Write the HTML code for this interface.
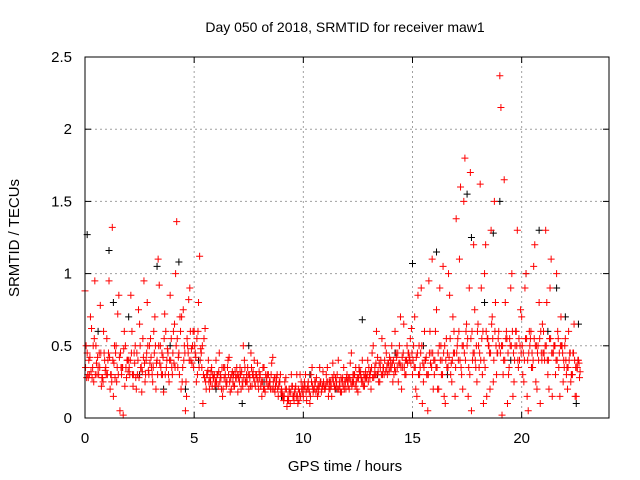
<!DOCTYPE html>
<html><head><meta charset="utf-8"><style>
body{margin:0;background:#fff;}
svg{display:block;font-family:"Liberation Sans",sans-serif;}
</style></head><body>
<svg id="chart" width="640" height="480" viewBox="0 0 640 480">
<rect width="640" height="480" fill="#fff"/>
<text x="345" y="32" font-size="14" text-anchor="middle">Day 050 of 2018, SRMTID for receiver maw1</text>
<text x="345" y="471" font-size="15" text-anchor="middle">GPS time / hours</text>
<text transform="translate(19,238) rotate(-90)" font-size="15" text-anchor="middle">SRMTID / TECUs</text>
<g id="grid"></g>
<g id="axes"></g>
<g id="black-series"></g>
<g id="red-series"></g>
<rect x="85" y="57" width="524" height="361" fill="none" stroke="#000" stroke-width="1"/>
</svg>
<script>
const xTicks=[0,5,10,15,20];
const yTicks=[0,0.5,1,1.5,2,2.5];
const yTickLabels=["0","0.5","1","1.5","2","2.5"];
const sampleStep=0.1;
const redOffsets=[0,0.05,0.025,0.075];
const vRedA=[.88,.45,.3,.62,.25,.5,.35,.78,.28,.4,
.55,.95,.3,.15,.45,.72,.05,.35,.6,.28,
.4,.85,.22,.5,.3,.65,.18,.95,.4,.33,
.55,.25,.7,.4,.92,.3,.18,.6,.45,.85,
.3,.65,1.36,.45,.2,.75,.05,.5,.9,.38,
.6,.25,.8,.48,.1,.62,.3,.2,.35,.28,
.4,.22,.3,.15,.35,.25,.42,.2,.3,.28,
.18,.35,.25,.4,.3,.2,.45,.32,.22,.38,
.28,.15,.35,.25,.3,.2,.42,.18,.3,.25,
.2,.12,.28,.15,.1,.22,.18,.3,.12,.25,
.15,.3,.22,.1,.35,.2,.28,.18,.25,.32,
.2,.35,.25,.15,.3,.22,.4,.18,.28,.25,
.3,.2,.45,.25,.35,.18,.3,.4,.22,.28,
.35,.2,.5,.3,.42,.25,.55,.3,.45,.38,
.4,.25,.6,.35,.5,.2,.65,.3,.45,.55,
.3,.7,.15,.5,.9,.25,.4,.05,.6,1.1,
.3,.75,.2,.5,1.05,.1,.45,.85,.25,.6,
1.38,.4,1.6,.2,1.8,.5,.9,.05,1.2,.35,
.65,1.62,.3,1.0,.15,.5,1.3,.25,.8,.45,
2.37,.02,1.65,.6,.3,.9,.15,.5,1.3,.4,
.7,.25,1.0,.05,.55,.35,1.2,.2,.8,.45,
.6,1.3,.3,.9,.15,.5,1.0,.35,.7,.25,
.55,.2,.45,.3,.65,.15,.4];
const vRedB=[.5,.28,.7,.35,.95,.3,.45,.22,.6,.35,
.4,.2,1.32,.5,.25,.85,.35,.02,.5,.4,
.3,.6,.45,.2,.75,.35,.55,.25,.8,.5,
.35,.6,.2,1.1,.5,.3,.72,.4,.25,.55,
.6,1.0,.35,.7,.25,.5,.15,.82,.4,.6,
.45,.3,1.12,.35,.55,.2,.4,.25,.3,.22,
.3,.45,.2,.35,.25,.4,.18,.32,.22,.35,
.3,.2,.5,.25,.35,.28,.22,.4,.3,.2,
.22,.35,.18,.3,.25,.38,.2,.28,.15,.3,
.15,.25,.08,.2,.3,.15,.22,.1,.3,.18,
.25,.12,.2,.3,.18,.25,.15,.35,.2,.22,
.3,.15,.25,.38,.2,.3,.25,.18,.35,.2,
.22,.38,.25,.3,.2,.35,.28,.22,.32,.4,
.28,.45,.3,.6,.25,.4,.35,.5,.3,.42,
.5,.3,.45,.25,.7,.35,.3,.5,.4,.62,
.5,.2,.85,.35,.1,.6,.3,.95,.45,.2,
.6,.2,.9,.4,.15,.55,1.0,.3,.7,.15,
.5,1.1,.3,1.5,.6,.15,1.7,.4,.75,.25,
.35,.9,.1,1.2,.55,.2,.7,1.5,.3,.6,
2.15,.3,.8,.1,.55,1.0,.25,.6,.35,.75,
.3,.9,.15,.6,.35,1.05,.25,.5,.1,.65,
.4,.8,.2,1.1,.45,.3,.6,.15,.5,.35,
.3,.6,.25,.45,.15,.35,.28];
const vRedC=[.35,.3,.42,.28,.55,.38,.3,.45,.25,.33,
.3,.42,.25,.38,.5,.3,.45,.35,.22,.4,
.35,.45,.3,.28,.4,.5,.32,.38,.45,.3,
.42,.35,.5,.3,.38,.45,.55,.35,.3,.4,
.45,.35,.55,.3,.7,.4,.25,.45,.6,.5,
.5,.55,.35,.45,.3,.25,.33,.28,.22,.3,
.25,.32,.28,.2,.3,.35,.25,.3,.22,.28,
.28,.3,.22,.35,.25,.3,.35,.28,.3,.25,
.3,.25,.2,.28,.22,.3,.25,.22,.2,.25,
.18,.15,.2,.12,.18,.15,.2,.15,.18,.2,
.2,.18,.25,.15,.22,.25,.2,.22,.18,.25,
.22,.25,.2,.28,.22,.25,.2,.28,.22,.25,
.25,.28,.22,.3,.25,.28,.32,.25,.28,.3,
.3,.35,.28,.38,.32,.35,.3,.4,.35,.32,
.35,.4,.32,.45,.38,.42,.35,.4,.45,.38,
.4,.35,.45,.3,.5,.35,.42,.3,.38,.45,
.4,.35,.5,.3,.45,.4,.35,.55,.4,.45,
.45,.6,.35,.5,.4,.55,.3,.6,.45,.5,
.5,.4,.6,.35,.55,.45,.65,.4,.5,.55,
.45,.5,.4,.55,.35,.5,.45,.6,.4,.5,
.5,.4,.55,.45,.6,.4,.5,.45,.55,.4,
.45,.5,.4,.55,.45,.5,.4,.45,.5,.4,
.4,.35,.45,.3,.4,.35,.38];
const vRedD=[.28,.4,.32,.5,.3,.42,.35,.28,.45,.3,
.45,.3,.4,.28,.35,.42,.3,.48,.35,.32,
.4,.3,.38,.45,.28,.35,.42,.3,.5,.38,
.3,.45,.38,.5,.35,.42,.3,.48,.4,.35,
.38,.5,.42,.6,.35,.45,.55,.4,.48,.35,
.42,.6,.4,.5,.28,.3,.25,.32,.28,.25,
.3,.25,.35,.28,.22,.3,.28,.25,.32,.3,
.25,.32,.28,.25,.3,.22,.3,.25,.28,.32,
.25,.2,.3,.22,.25,.2,.28,.25,.22,.18,
.15,.2,.12,.18,.22,.12,.15,.2,.15,.22,
.22,.2,.18,.25,.2,.18,.22,.25,.22,.2,
.25,.2,.22,.25,.28,.2,.22,.25,.2,.28,
.28,.25,.3,.22,.28,.32,.25,.3,.28,.25,
.32,.28,.35,.3,.38,.3,.35,.32,.38,.35,
.38,.35,.42,.38,.35,.45,.4,.38,.42,.45,
.35,.42,.3,.45,.38,.4,.3,.45,.35,.4,
.35,.45,.4,.3,.5,.35,.42,.38,.45,.35,
.55,.4,.5,.45,.65,.35,.55,.45,.4,.6,
.45,.55,.4,.6,.5,.45,.55,.6,.45,.5,
.5,.4,.55,.45,.5,.6,.4,.5,.55,.45,
.45,.55,.4,.5,.45,.55,.5,.4,.6,.45,
.5,.4,.55,.45,.5,.4,.55,.5,.45,.5,
.35,.4,.3,.45,.35,.4,.32];
const tBlack=[0.1,0.6,1.1,1.3,2.0,2.5,3.3,3.9,4.3,4.6,5.2,6.0,6.8,7.5,8.2,9.0,10.3,11.5,12.7,13.4,14.2,15.0,15.5,16.1,16.6,17.5,17.7,18.3,18.7,19.0,19.5,20.2,20.8,21.2,21.6,22.0,22.6,22.5,7.2,3.6];
const vBlack=[1.27,0.6,1.16,0.8,0.7,0.3,1.05,0.5,1.08,0.2,0.4,0.2,0.3,0.5,0.25,0.15,0.3,0.2,0.68,0.3,0.45,1.07,0.5,1.15,0.3,1.55,1.25,0.8,1.28,1.5,0.4,1.0,1.3,0.6,0.9,0.7,0.65,0.1,0.1,0.2];

const NS="http://www.w3.org/2000/svg";
const X0=85,X1=609,Y0=418,Y1=57,XMAX=24,YMAX=2.5;
function xs(t){return X0+(t/XMAX)*(X1-X0);}
function ys(v){return Y0-(v/YMAX)*(Y0-Y1);}
function mk(tag,attrs,parent){const e=document.createElementNS(NS,tag);for(const k in attrs)e.setAttribute(k,attrs[k]);parent.appendChild(e);return e;}
const grid=document.getElementById('grid'),axes=document.getElementById('axes');
xTicks.forEach((t,i)=>{
  const x=xs(t);
  if(t>0){const g=mk('line',{x1:x,y1:Y0,x2:x,y2:Y1,stroke:'#a0a0a0','stroke-dasharray':'2,3'},grid);
  
  }
  mk('line',{x1:x,y1:Y0,x2:x,y2:Y0-6,stroke:'#000'},axes);
  mk('line',{x1:x,y1:Y1,x2:x,y2:Y1+6,stroke:'#000'},axes);
  const l=mk('text',{x:x,y:443,'font-size':15,'text-anchor':'middle'},axes);
  l.textContent=String(t);
  
  
});
yTicks.forEach((v,i)=>{
  const y=ys(v);
  if(v>0&&v<YMAX){const g=mk('line',{x1:X0,y1:y,x2:X1,y2:y,stroke:'#a0a0a0','stroke-dasharray':'2,3'},grid);
  
  }
  mk('line',{x1:X0,y1:y,x2:X0+6,y2:y,stroke:'#000'},axes);
  mk('line',{x1:X1,y1:y,x2:X1-6,y2:y,stroke:'#000'},axes);
  const l=mk('text',{x:72,y:y+5,'font-size':15,'text-anchor':'end'},axes);
  l.textContent=yTickLabels[i];
  
  
});
function cross(t,v,color,parent,name){
  const x=xs(t),y=ys(v);
  const p=mk('path',{d:`M${x-3.5},${y}H${x+3.5}M${x},${y-3.5}V${y+3.5}`,stroke:color,'stroke-width':1,fill:'none'},parent);
  
  
}
const bg=document.getElementById('black-series'),rg=document.getElementById('red-series');
tBlack.forEach((t,i)=>cross(t,vBlack[i],'#000',bg,'black-point'));
[vRedA,vRedB,vRedC,vRedD].forEach((arr,k)=>{
  arr.forEach((v,i)=>cross(i*sampleStep+redOffsets[k],v,'#ff0000',rg,'red-point'));
});
</script>
</body></html>
